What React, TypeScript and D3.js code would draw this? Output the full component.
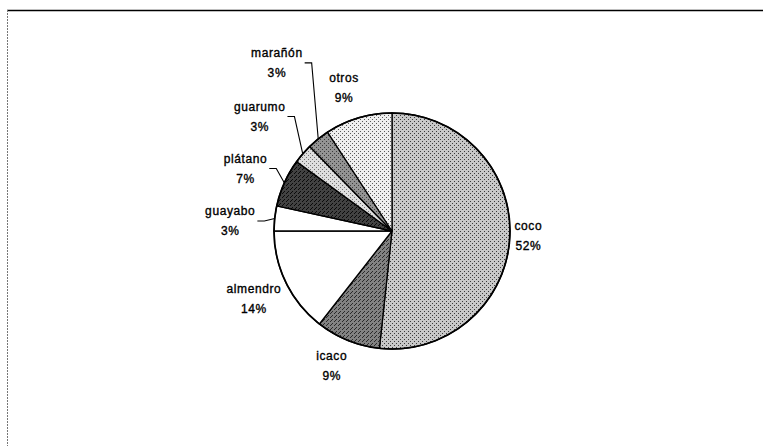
import * as d3 from "d3";
import React, { useEffect, useRef } from "react";

// share of each tree species
const categories = ["coco", "icaco", "almendro", "guayabo", "plátano", "guarumo", "marañón", "otros"];
const shares = [51.7, 8.85, 14.45, 3.4, 6.6, 2.7, 3.1, 9.2];

// look: base gray + speckle colour of the scanned dither
const baseFills = ["#c8c8c8", "#828282", "#ffffff", "#ffffff", "#424242", "#dedede", "#939393", "#efefef"];
const dotFills = ["#3a3a3a", "#2a2a2a", "#ffffff", "#ffffff", "#0a0a0a", "#707070", "#3a3a3a", "#5a5a5a"];

// label layout: extra radial gap, small angular turn (deg), leader line or not
const labelGap = [4, 9, 4, 18, 15, 27, 58, 13];
const labelTurn = [-1, 2, 0, -2.6, -1, 0, 4.3, -2];
const hasLeader = [false, false, false, true, true, true, true, false];

const W = 767,
  H = 446;

const App = () => {
  const svgRef = useRef<SVGSVGElement>(null);

  useEffect(() => {
    const svg = d3.select(svgRef.current);
    svg.selectAll("*").remove();

    const cx = 392,
      cy = 231,
      R = 118;

    const total = d3.sum(shares);
    const data = categories.map((c, i) => ({ name: c, value: shares[i], i }));

    // dither-like patterns
    const defs = svg.append("defs");
    data.forEach((d) => {
      const p = defs
        .append("pattern")
        .attr("id", "pat" + d.i)
        .attr("width", 4)
        .attr("height", 4)
        .attr("patternUnits", "userSpaceOnUse");
      p.append("rect").attr("width", 4).attr("height", 4).attr("fill", baseFills[d.i]);
      [
        [0, 0],
        [2, 2],
        [3, 1],
      ].forEach(([x, y], k) => {
        if (k === 2 && d.i !== 4 && d.i !== 1) return;
        p.append("rect")
          .attr("x", x)
          .attr("y", y)
          .attr("width", 1)
          .attr("height", 1)
          .attr("fill", dotFills[d.i]);
      });
    });

    // frame: solid top rule, faint dotted left edge
    svg.append("line")
      .attr("x1", 7).attr("x2", 763).attr("y1", 10.5).attr("y2", 10.5)
      .attr("stroke", "#000").attr("stroke-width", 1.3);
    svg.append("line")
      .attr("x1", 7.5).attr("x2", 7.5).attr("y1", 10).attr("y2", H)
      .attr("stroke", "#777").attr("stroke-width", 1).attr("stroke-dasharray", "2,1");

    const pie = d3
      .pie<any>()
      .sort(null)
      .value((d) => d.value);
    const arcs = pie(data);
    const arc = d3.arc<any>().innerRadius(0).outerRadius(R);

    const g = svg.append("g").attr("transform", `translate(${cx},${cy})`);

    g.selectAll("path.slice")
      .data(arcs)
      .enter()
      .append("path")
      .attr("class", "slice")
      .attr("d", arc)
      .attr("fill", (d) => `url(#pat${d.data.i})`)
      .attr("stroke", "#000")
      .attr("stroke-width", 1.3)
      .attr("stroke-linejoin", "round");

    g.append("circle")
      .attr("r", R)
      .attr("fill", "none")
      .attr("stroke", "#000")
      .attr("stroke-width", 1.7);

    // labels
    const font = "'Liberation Sans', Arial, sans-serif";
    arcs.forEach((a) => {
      const i = a.data.i;
      const mid = (a.startAngle + a.endAngle) / 2;
      const ang = mid + (labelTurn[i] * Math.PI) / 180;
      const lg = g.append("g");
      const t1 = lg
        .append("text")
        .text(a.data.name)
        .attr("text-anchor", "middle")
        .attr("y", -10)
        .attr("dy", "0.35em");
      const t2 = lg
        .append("text")
        .text(Math.round((a.data.value / total) * 100) + "%")
        .attr("text-anchor", "middle")
        .attr("y", 10)
        .attr("dy", "0.35em");
      lg.selectAll("text")
        .style("font-family", font)
        .style("font-size", "12px")
        .style("letter-spacing", "0.6px")
        .attr("fill", "#000")
        .attr("stroke", "#000")
        .attr("stroke-width", 0.35);

      const w = Math.max(
        (t1.node() as SVGTextElement).getComputedTextLength(),
        (t2.node() as SVGTextElement).getComputedTextLength()
      );
      const halfW = w / 2,
        halfH = 16;
      const ext = Math.abs(Math.sin(ang)) * halfW + Math.abs(Math.cos(ang)) * halfH;
      const dist = R + labelGap[i] + ext;
      const lx = dist * Math.sin(ang),
        ly = -dist * Math.cos(ang);
      lg.attr("transform", `translate(${lx},${ly})`);

      if (hasLeader[i]) {
        const px = R * Math.sin(mid),
          py = -R * Math.cos(mid);
        const sx = lx + halfW + 2;
        g.append("path")
          .attr("d", `M${sx},${ly}L${sx + 7},${ly}L${px},${py}`)
          .attr("fill", "none")
          .attr("stroke", "#000")
          .attr("stroke-width", 1.1);
      }
    });
  }, []);

  return (
    <svg
      ref={svgRef}
      width={W}
      height={H}
      style={{ position: "absolute", left: 0, top: 0, background: "#fff" }}
    ></svg>
  );
};

export default App;
